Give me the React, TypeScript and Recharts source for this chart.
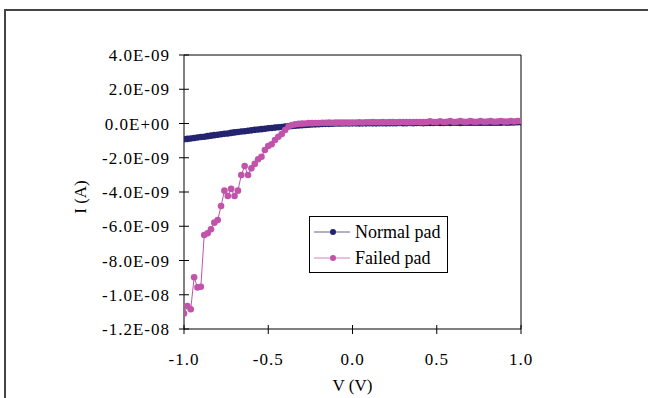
import React from "react";
import {
    LineChart,
    Line,
    XAxis,
    YAxis,
    Legend,
    ReferenceLine,
} from "recharts";

// bias voltage, V
const voltage = [
    -1.0, -0.98, -0.96, -0.94, -0.92, -0.9, -0.88, -0.86, -0.84, -0.82,
    -0.8, -0.78, -0.76, -0.74, -0.72, -0.7, -0.68, -0.66, -0.64, -0.62,
    -0.6, -0.58, -0.56, -0.54, -0.52, -0.5, -0.48, -0.46, -0.44, -0.42,
    -0.4, -0.38, -0.36, -0.34, -0.32, -0.3, -0.28, -0.26, -0.24, -0.22,
    -0.2, -0.18, -0.16, -0.14, -0.12, -0.1, -0.08, -0.06, -0.04, -0.02,
    0.0, 0.02, 0.04, 0.06, 0.08, 0.1, 0.12, 0.14, 0.16, 0.18,
    0.2, 0.22, 0.24, 0.26, 0.28, 0.3, 0.32, 0.34, 0.36, 0.38,
    0.4, 0.42, 0.44, 0.46, 0.48, 0.5, 0.52, 0.54, 0.56, 0.58,
    0.6, 0.62, 0.64, 0.66, 0.68, 0.7, 0.72, 0.74, 0.76, 0.78,
    0.8, 0.82, 0.84, 0.86, 0.88, 0.9, 0.92, 0.94, 0.96, 0.98,
    1.0,
];

// current in nA (x1e-9 A)
const normalPad = [
    -0.92, -0.9, -0.88, -0.85, -0.82, -0.79, -0.77, -0.74, -0.71, -0.68,
    -0.66, -0.63, -0.6, -0.58, -0.55, -0.52, -0.5, -0.47, -0.45, -0.42,
    -0.4, -0.37, -0.35, -0.33, -0.31, -0.28, -0.26, -0.24, -0.22, -0.2,
    -0.18, -0.16, -0.15, -0.13, -0.12, -0.1, -0.09, -0.07, -0.06, -0.05,
    -0.04, -0.03, -0.02, -0.02, -0.01, 0.0, 0.0, 0.0, 0.01, 0.0,
    0.01, 0.01, 0.0, 0.01, 0.01, 0.02, 0.01, 0.01, 0.02, 0.02,
    0.01, 0.02, 0.02, 0.02, 0.03, 0.02, 0.02, 0.03, 0.02, 0.03,
    0.03, 0.02, 0.03, 0.03, 0.03, 0.04, 0.03, 0.03, 0.04, 0.03,
    0.04, 0.04, 0.03, 0.04, 0.04, 0.04, 0.05, 0.04, 0.04, 0.05,
    0.04, 0.05, 0.05, 0.05, 0.05, 0.06, 0.05, 0.06, 0.06, 0.07,
    0.07,
];

const failedPad = [
    -11.1, -10.66, -10.85, -8.98, -9.57, -9.53, -6.51, -6.41, -6.18, -5.79,
    -5.64, -4.82, -3.92, -4.23, -3.82, -4.23, -3.92, -3.01, -2.48, -3.01,
    -2.62, -2.36, -2.09, -1.94, -1.55, -1.31, -1.21, -0.96, -0.77, -0.61,
    -0.38, -0.19, -0.09, -0.05, -0.02, -0.01, 0.0, 0.02, 0.02, 0.03,
    0.03, 0.04, 0.04, 0.05, 0.04, 0.05, 0.06, 0.05, 0.06, 0.05,
    0.06, 0.06, 0.07, 0.06, 0.07, 0.07, 0.08, 0.07, 0.07, 0.08,
    0.07, 0.08, 0.08, 0.07, 0.08, 0.09, 0.08, 0.08, 0.08, 0.09,
    0.08, 0.08, 0.09, 0.13, 0.09, 0.09, 0.13, 0.09, 0.1, 0.14,
    0.09, 0.1, 0.14, 0.1, 0.1, 0.14, 0.1, 0.1, 0.14, 0.1,
    0.11, 0.14, 0.1, 0.11, 0.15, 0.11, 0.11, 0.15, 0.12, 0.15,
    0.16,
];

const seriesNames = ["Normal pad", "Failed pad"];
const xTicks = [-1, -0.5, 0, 0.5, 1];
const yTicks = [-1.2e-8, -1e-8, -8e-9, -6e-9, -4e-9, -2e-9, 0, 2e-9, 4e-9];

const NORMAL = "#23236f";
const FAILED = "#c153aa";
const COLORS = [NORMAL, FAILED];
const FONT = "'Liberation Serif', 'Times New Roman', serif";
const TICK_SIZE = 5;
const TICK_MARGIN = 4;

const data = voltage.map((v, i) => ({
    v,
    normal: normalPad[i] * 1e-9,
    failed: failedPad[i] * 1e-9,
}));

// Excel style: 4.0E-09, 0.0E+00
const fmtSci = (val: number) => {
    if (val === 0) return "0.0E+00";
    const exp = Math.floor(Math.log10(Math.abs(val)) + 1e-9);
    const mant = val / Math.pow(10, exp);
    const sign = exp < 0 ? "-" : "+";
    return `${mant.toFixed(1)}E${sign}${String(Math.abs(exp)).padStart(2, "0")}`;
};

const YTick = (props: any) => {
    const { x, y, payload } = props;
    const ax = x + TICK_SIZE + TICK_MARGIN;
    return (
        <g>
            <line x1={ax - 5} x2={ax + 5} y1={y} y2={y} stroke="#000" />
            <text
                x={ax - 14}
                y={y + 6}
                textAnchor="end"
                fontSize={17}
                fontFamily={FONT}
                letterSpacing={1}
                fill="#000"
            >
                {fmtSci(payload.value)}
            </text>
        </g>
    );
};

const XTick = (props: any) => {
    const { x, y, payload } = props;
    const ay = y - TICK_SIZE - TICK_MARGIN;
    return (
        <g>
            <line x1={x} x2={x} y1={ay - 4} y2={ay + 5} stroke="#000" />
            <text
                x={x}
                y={ay + 36}
                textAnchor="middle"
                fontSize={17}
                fontFamily={FONT}
                letterSpacing={1}
                fill="#000"
            >
                {payload.value.toFixed(1)}
            </text>
        </g>
    );
};

const XTitle = (props: any) => {
    const { x, y, width } = props.viewBox;
    return (
        <text x={x + width / 2} y={y + 62} textAnchor="middle" fontSize={17} fontFamily={FONT} fill="#000">
            V (V)
        </text>
    );
};

const YTitle = (props: any) => {
    const { x, y, height } = props.viewBox;
    const cx = x + 86;
    const cy = y + height / 2 + 5;
    return (
        <text
            x={cx}
            y={cy}
            transform={`rotate(-90, ${cx}, ${cy})`}
            textAnchor="middle"
            fontSize={17}
            fontFamily={FONT}
            fill="#000"
        >
            I (A)
        </text>
    );
};

const LegendBox = () => (
    <div
        style={{
            border: "1px solid #000",
            background: "#fff",
            width: 137,
            height: 53,
            boxSizing: "content-box",
            fontFamily: FONT,
            fontSize: 18,
            paddingTop: 2,
        }}
    >
        {seriesNames.map((name, i) => (
            <div key={name} style={{ display: "flex", alignItems: "center", height: 26 }}>
                <svg width={41} height={12} style={{ marginLeft: 4 }}>
                    <line x1={0} x2={36} y1={6} y2={6} stroke={COLORS[i]} strokeWidth={1} opacity={0.7} />
                    <circle cx={19} cy={6} r={3} fill={COLORS[i]} />
                </svg>
                <span style={{ marginLeft: 0 }}>{name}</span>
            </div>
        ))}
    </div>
);

const App: React.FC = () => {
    return (
        <div
            style={{
                position: "absolute",
                left: 0,
                top: 0,
                width: 648,
                height: 398,
                overflow: "hidden",
                background: "#fff",
            }}
        >
            <div
                style={{
                    position: "absolute",
                    left: 4,
                    top: 9,
                    width: 800,
                    height: 600,
                    borderTop: "2px solid #444",
                    borderLeft: "2px solid #444",
                }}
            />
            <div style={{ position: "absolute", left: 0, top: 0 }}>
                <LineChart
                    width={648}
                    height={398}
                    data={data}
                    margin={{ top: 55, right: 127, bottom: 0, left: 0 }}
                >
                    <XAxis
                        dataKey="v"
                        type="number"
                        domain={[-1, 1]}
                        ticks={xTicks}
                        height={69}
                        tickSize={TICK_SIZE}
                        tickMargin={TICK_MARGIN}
                        tickLine={false}
                        tick={<XTick />}
                        axisLine={{ stroke: "#000" }}
                        label={<XTitle />}
                        allowDataOverflow
                    />
                    <YAxis
                        type="number"
                        domain={[-1.2e-8, 4e-9]}
                        ticks={yTicks}
                        width={184}
                        tickSize={TICK_SIZE}
                        tickMargin={TICK_MARGIN}
                        tickLine={false}
                        tick={<YTick />}
                        axisLine={{ stroke: "#000" }}
                        label={<YTitle />}
                        allowDataOverflow
                    />
                    <ReferenceLine y={4e-9} stroke="#000" />
                    <ReferenceLine x={1} stroke="#000" />
                    <Line
                        name={seriesNames[0]}
                        dataKey="normal"
                        type="linear"
                        stroke={NORMAL}
                        strokeWidth={1}
                        dot={{ r: 3.3, fill: NORMAL, stroke: NORMAL, strokeWidth: 0 }}
                        activeDot={false}
                        isAnimationActive={false}
                    />
                    <Line
                        name={seriesNames[1]}
                        dataKey="failed"
                        type="linear"
                        stroke={FAILED}
                        strokeWidth={1}
                        dot={{ r: 3.3, fill: FAILED, stroke: FAILED, strokeWidth: 0 }}
                        activeDot={false}
                        isAnimationActive={false}
                    />
                    <Legend
                        layout="vertical"
                        align="center"
                        verticalAlign="middle"
                        content={<LegendBox />}
                        wrapperStyle={{ left: 309, top: 216, width: 139, height: 55 }}
                    />
                </LineChart>
            </div>
        </div>
    );
};

export default App;
